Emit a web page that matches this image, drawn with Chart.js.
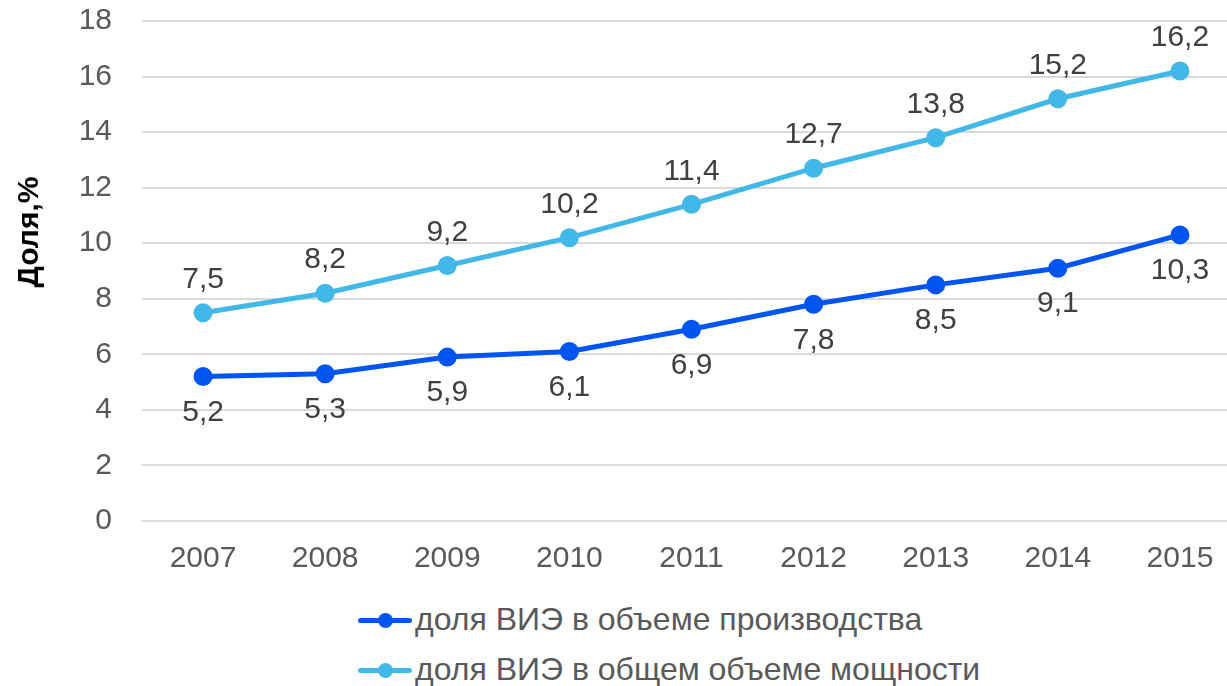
<!DOCTYPE html>
<html>
<head>
<meta charset="utf-8">
<script src="https://cdn.jsdelivr.net/npm/chart.js@4"></script>
<style>
  html, body { margin: 0; padding: 0; background: #fff; overflow: hidden; }
  #wrap { position: relative; width: 1227px; height: 686px; overflow: hidden; }
  #chart { position: absolute; left: 0; top: -27px; }
  .leg { position: absolute; left: 358px; height: 40px; font: 32px "Liberation Sans", Arial, sans-serif; color: #595959; white-space: nowrap; }
  .leg .ln { position: absolute; left: 0; top: 18px; width: 54px; height: 5px; border-radius: 3px; }
  .leg .dt { position: absolute; left: 20px; top: 13px; width: 15px; height: 15px; border-radius: 50%; }
  .leg .tx { position: absolute; left: 57px; top: 1px; }
</style>
</head>
<body>
<div id="wrap">
  <canvas id="chart" width="1253" height="617"></canvas>
  <div class="leg" id="leg1" style="top:600px"><div class="ln"></div><div class="dt"></div><div class="tx"></div></div>
  <div class="leg" id="leg2" style="top:650px"><div class="ln"></div><div class="dt"></div><div class="tx"></div></div>
</div>
<script>
// данные
const years = ['2007', '2008', '2009', '2010', '2011', '2012', '2013', '2014', '2015'];
const shareProduction = [5.2, 5.3, 5.9, 6.1, 6.9, 7.8, 8.5, 9.1, 10.3];
const shareCapacity = [7.5, 8.2, 9.2, 10.2, 11.4, 12.7, 13.8, 15.2, 16.2];
const seriesNames = ['доля ВИЭ в объеме производства', 'доля ВИЭ в общем объеме мощности'];
const yTitle = 'Доля,%';

const darkBlue = '#0055F2';
const lightBlue = '#41B8E8';
const font = '"Liberation Sans", Arial, sans-serif';

// легенда в HTML
[[ 'leg1', darkBlue, seriesNames[0] ], [ 'leg2', lightBlue, seriesNames[1] ]].forEach(function (it) {
  const el = document.getElementById(it[0]);
  el.querySelector('.ln').style.background = it[1];
  el.querySelector('.dt').style.background = it[1];
  el.querySelector('.tx').textContent = it[2];
});

// подписи значений и заголовок оси
const labelsPlugin = {
  id: 'valueLabels',
  afterDatasetsDraw(chart) {
    const ctx = chart.ctx;
    ctx.save();
    ctx.font = '30px ' + font;
    ctx.fillStyle = '#404040';
    ctx.textAlign = 'center';
    ctx.textBaseline = 'middle';
    chart.data.datasets.forEach(function (ds, i) {
      const meta = chart.getDatasetMeta(i);
      meta.data.forEach(function (pt, j) {
        const txt = String(ds.data[j]).replace('.', ',');
        const dy = i === 0 ? 36 : -33;
        ctx.fillText(txt, pt.x, pt.y + dy);
      });
    });
    // заголовок оси Y (канвас сдвинут на 27px вверх)
    ctx.translate(30, 232 + 27);
    ctx.rotate(-Math.PI / 2);
    ctx.font = 'bold 30px ' + font;
    ctx.fillStyle = '#000';
    ctx.fillText(yTitle, 0, 0);
    ctx.restore();
  }
};

const ctx = document.getElementById('chart').getContext('2d');
new Chart(ctx, {
  type: 'line',
  data: {
    labels: years,
    datasets: [
      {
        label: seriesNames[0],
        data: shareProduction,
        borderColor: darkBlue,
        backgroundColor: darkBlue,
        borderWidth: 5,
        pointRadius: 7,
        pointHoverRadius: 7,
        tension: 0,
        fill: false
      },
      {
        label: seriesNames[1],
        data: shareCapacity,
        borderColor: lightBlue,
        backgroundColor: lightBlue,
        borderWidth: 5,
        pointRadius: 7,
        pointHoverRadius: 7,
        tension: 0,
        fill: false
      }
    ]
  },
  options: {
    responsive: false,
    animation: false,
    layout: { padding: 0 },
    plugins: {
      legend: { display: false },
      tooltip: { enabled: false }
    },
    scales: {
      x: {
        offset: true,
        grid: { display: false, drawTicks: false },
        border: { display: false },
        ticks: { color: '#595959', font: { family: font, size: 30 }, padding: 20, maxRotation: 0 },
        afterFit: function (axis) { axis.height = 69; }
      },
      y: {
        min: 0,
        max: 18,
        grid: { color: '#D9D9D9', lineWidth: 2, drawTicks: false },
        border: { display: false },
        ticks: { stepSize: 2, color: '#595959', font: { family: font, size: 30 }, padding: 30 },
        afterFit: function (axis) { axis.width = 142; }
      }
    }
  },
  plugins: [labelsPlugin]
});
</script>
</body>
</html>
